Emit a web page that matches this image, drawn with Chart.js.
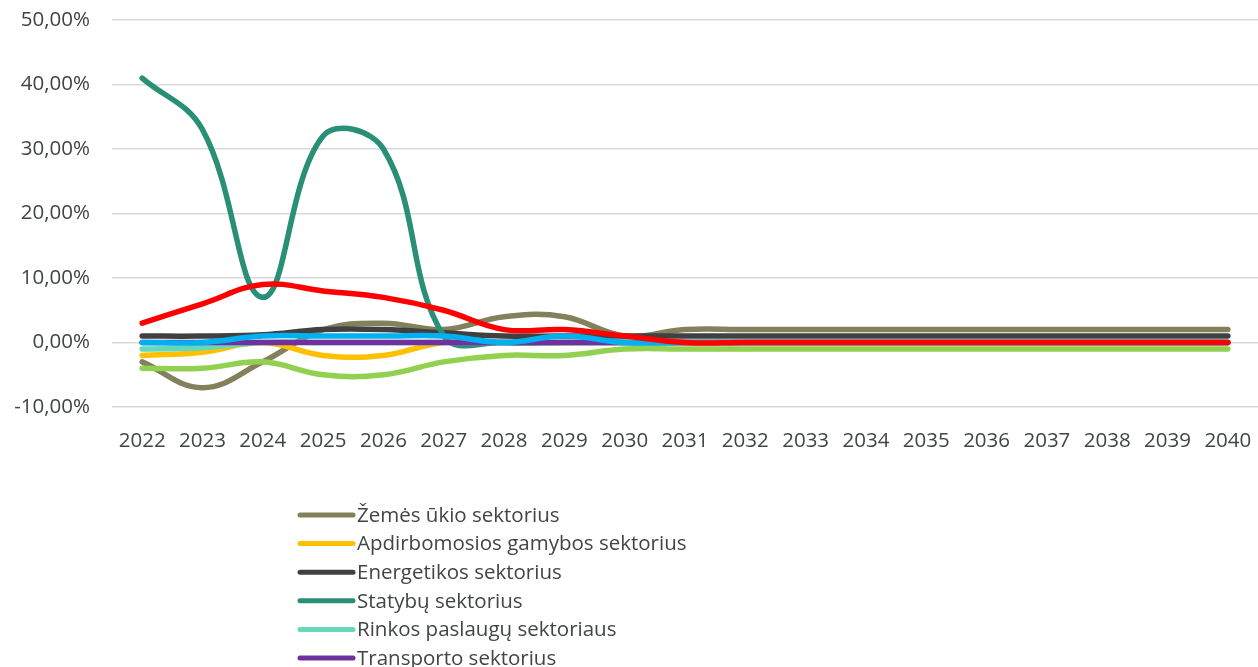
<!DOCTYPE html>
<html><head><meta charset="utf-8">
<script src="https://cdn.jsdelivr.net/npm/chart.js"></script>
<style>html,body{margin:0;padding:0;background:#fff;overflow:hidden}</style>
</head><body>
<canvas id="c" width="1258" height="667"></canvas>
<script>
const years = ['2022','2023','2024','2025','2026','2027','2028','2029','2030','2031','2032','2033','2034','2035','2036','2037','2038','2039','2040'];
const seriesNames = ['Žemės ūkio sektorius','Apdirbomosios gamybos sektorius','Energetikos sektorius','Statybų sektorius','Rinkos paslaugų sektoriaus','Transporto sektorius','Informacijos ir ryšių sektorius','Viešųjų paslaugų sektorius','Iš viso'];
const seriesColors = ['#83815B','#FFC000','#404040','#2A8F77','#64D8B9','#7030A0','#00B0F0','#92D050','#FF0000'];
const zemesUkio   = [-3,-7,-3,2,3,2,4,4,1,2,2,2,2,2,2,2,2,2,2];
const apdirbimo   = [-2,-1.5,0,-2,-2,0,0,0,0,0,0,0,0,0,0,0,0,0,0];
const energetikos = [1,1,1.2,2,2,1.5,1,1,1,1,1,1,1,1,1,1,1,1,1];
const statybu     = [41,33,7,32,30,1,0,0,0,0,0,0,0,0,0,0,0,0,0];
const rinkos      = [-1,-0.8,0,0,0,0,0,0,0,0,0,0,0,0,0,0,0,0,0];
const transporto  = [0,0,0,0,0,0,0,0,0,0,0,0,0,0,0,0,0,0,0];
const informacijos= [0,0,1,1,1,1,0,1,0,0,0,0,0,0,0,0,0,0,0];
const viesuju     = [-4,-4,-3,-5,-5,-3,-2,-2,-1,-1,-1,-1,-1,-1,-1,-1,-1,-1,-1];
const isViso      = [3,6,9,8,7,5,2,2,1,0,0,0,0,0,0,0,0,0,0];
const seriesValues = [zemesUkio,apdirbimo,energetikos,statybu,rinkos,transporto,informacijos,viesuju,isViso];
const yMin = -10, yMax = 50, yStep = 10;

const FONT = '"Open Sans", "DejaVu Sans", sans-serif';
const TEXT = '#404545';

const columnLegend = {
  id: 'columnLegend',
  afterDraw(chart) {
    const ctx = chart.ctx;
    ctx.save();
    chart.data.datasets.forEach((ds, i) => {
      const y = 515 + i * 28.6;
      ctx.strokeStyle = ds.borderColor;
      ctx.lineWidth = 5;
      ctx.lineCap = 'round';
      ctx.beginPath(); ctx.moveTo(300, y); ctx.lineTo(353, y); ctx.stroke();
      ctx.fillStyle = TEXT;
      ctx.font = '20.5px ' + FONT;
      ctx.textBaseline = 'middle';
      ctx.textAlign = 'left';
      ctx.fillText(ds.label, 357, y + 1);
    });
    ctx.restore();
  }
};

function noPad(s) { s.paddingTop = 0; s.paddingBottom = 0; s.paddingLeft = 0; s.paddingRight = 0; }

new Chart(document.getElementById('c'), {
  type: 'line',
  data: {
    labels: years,
    datasets: seriesNames.map((name, i) => ({
      label: name,
      data: seriesValues[i],
      borderColor: seriesColors[i],
      backgroundColor: seriesColors[i],
      borderWidth: 5.5,
      pointRadius: 0,
      tension: 0.4,
      borderCapStyle: 'round',
      borderJoinStyle: 'round',
      fill: false,
      order: seriesNames.length - i
    }))
  },
  options: {
    responsive: false,
    devicePixelRatio: 1,
    animation: false,
    layout: { padding: { top: 20, right: 0, left: 0, bottom: 0 } },
    plugins: { legend: { display: false }, tooltip: { enabled: false } },
    scales: {
      x: {
        type: 'category',
        offset: true,
        grid: { display: false, drawTicks: false },
        border: { display: false },
        ticks: { color: TEXT, font: { family: FONT, size: 20.5 }, padding: 22, maxRotation: 0, autoSkip: false },
        afterFit(s) { s.height = 260; noPad(s); }
      },
      y: {
        min: yMin, max: yMax,
        grid: { color: '#d9d9d9', lineWidth: 1.5, drawTicks: false },
        border: { display: false },
        ticks: {
          stepSize: yStep, color: TEXT, font: { family: FONT, size: 20.5 }, padding: 22,
          callback: v => v.toFixed(2).replace('.', ',') + '%'
        },
        afterFit(s) { s.width = 112; noPad(s); }
      }
    }
  },
  plugins: [columnLegend]
});
</script>
</body></html>
